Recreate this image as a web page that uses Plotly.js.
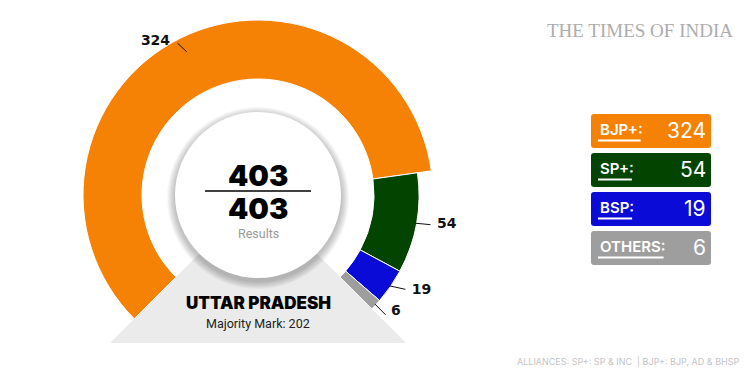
<!DOCTYPE html>
<html><head><meta charset="utf-8">
<script src="https://cdn.plot.ly/plotly-3.0.1.min.js"></script>
<style>html,body{margin:0;padding:0;background:#fff}#chart{width:754px;height:378px}</style>
</head><body><div id="chart"></div>
<script>
// ---- data ----
const parties = ['BJP+', 'SP+', 'BSP', 'OTHERS'];
const seats = [324, 54, 19, 6];
const partyColors = ['#f58205', '#034401', '#0b0bd8', '#9e9e9e'];
const totalSeats = 403;
const majorityMark = 202;
const stateName = 'UTTAR PRADESH';
const footnote = 'ALLIANCES: SP+: SP &amp; INC&nbsp; | BJP+: BJP, AD &amp; BHSP';
const brand = 'THE TIMES OF INDIA';

// ---- geometry / style ----
const W = 754, H = 378, CX = 258, CY = 195;
const R_MAX = 183, R_IN = 116;
const outerR = [175, 161, 161, 161];
const leaderEnd = [172, 175, 175, 175];
const leaderDTheta = [-1.5, -0.4, -2, 0.2];
const labelR = [176.5, 181.3, 180.9, 177.1];
const labelDTheta = [-3.4, -0.9, -2.8, -1.7];
const labelPos = ['middle left', 'middle right', 'middle right', 'middle right'];
const START = -135, SPAN = 270;
const px = x => x / W, py = y => 1 - y / H;

const declared = seats.reduce((a, b) => a + b, 0);
let cum = 0; const theta = [], widths = [];
seats.forEach(v => { const w = v / totalSeats * SPAN; theta.push(START + cum + w / 2); widths.push(w); cum += w; });

const donut = {
  type: 'barpolar', r: outerR.map(o => o - R_IN), base: outerR.map(() => R_IN),
  theta: theta, width: widths,
  marker: {color: partyColors, line: {color: '#ffffff', width: 1}},
  hoverinfo: 'skip', showlegend: false
};
const lr = [], lt = [];
theta.forEach((t, i) => { lr.push(160, leaderEnd[i], null); lt.push(t, t + leaderDTheta[i], null); });
const leaders = {
  type: 'scatterpolar', mode: 'lines', r: lr, theta: lt, cliponaxis: false,
  line: {color: '#111', width: 1}, hoverinfo: 'skip', showlegend: false
};
const labels = {
  type: 'scatterpolar', mode: 'text', r: labelR, theta: theta.map((t, i) => t + labelDTheta[i]), cliponaxis: false,
  text: seats.map(String), textposition: labelPos,
  textfont: {family: 'DejaVu Sans', size: 14, color: '#111', weight: 700},
  hoverinfo: 'skip', showlegend: false
};

const shapes = [];
// grey wedge
const TRI_Y = 343;
shapes.push({type: 'path', xref: 'paper', yref: 'paper', layer: 'above',
  path: `M ${px(CX)} ${py(CY)} L ${px(CX - (TRI_Y - CY))} ${py(TRI_Y)} L ${px(CX + (TRI_Y - CY))} ${py(TRI_Y)} Z`,
  fillcolor: '#ebebeb', line: {width: 0}});
// shadow + center circle
const RC = 83;
for (let i = 8; i >= 1; i--) {
  shapes.push({type: 'circle', xref: 'paper', yref: 'paper', layer: 'above',
    x0: px(CX - RC - i), x1: px(CX + RC + i), y0: py(CY + 3 + RC + i), y1: py(CY + 3 - RC - i),
    fillcolor: 'rgba(0,0,0,0.03)', line: {width: 0}});
}
shapes.push({type: 'circle', xref: 'paper', yref: 'paper', layer: 'above',
  x0: px(CX - RC), x1: px(CX + RC), y0: py(CY + RC), y1: py(CY - RC),
  fillcolor: '#ffffff', line: {width: 0}});
// fraction line
shapes.push({type: 'line', xref: 'paper', yref: 'paper', layer: 'above',
  x0: px(CX - 53), x1: px(CX + 53), y0: py(191), y1: py(191), line: {color: '#000', width: 1.5}});

// legend boxes
const BX0 = 591, BX1 = 711, BY0 = 114, BH = 34, BSTEP = 39, BR = 3;
const canvas = document.createElement('canvas'); const ctx = canvas.getContext('2d');
ctx.font = '600 15px Inter';
const annotations = [];
parties.forEach((p, i) => {
  const y0 = BY0 + i * BSTEP, y1 = y0 + BH;
  const path = `M ${px(BX0 + BR)} ${py(y0)} L ${px(BX1 - BR)} ${py(y0)} Q ${px(BX1)} ${py(y0)} ${px(BX1)} ${py(y0 + BR)} ` +
    `L ${px(BX1)} ${py(y1 - BR)} Q ${px(BX1)} ${py(y1)} ${px(BX1 - BR)} ${py(y1)} L ${px(BX0 + BR)} ${py(y1)} ` +
    `Q ${px(BX0)} ${py(y1)} ${px(BX0)} ${py(y1 - BR)} L ${px(BX0)} ${py(y0 + BR)} Q ${px(BX0)} ${py(y0)} ${px(BX0 + BR)} ${py(y0)} Z`;
  shapes.push({type: 'path', xref: 'paper', yref: 'paper', layer: 'above', path: path,
    fillcolor: partyColors[i], line: {width: 0}});
  const lw = ctx.measureText(p + ':').width;
  shapes.push({type: 'line', xref: 'paper', yref: 'paper', layer: 'above',
    x0: px(598), x1: px(598 + lw), y0: py(y0 + 26.5), y1: py(y0 + 26.5), line: {color: '#fff', width: 2}});
  annotations.push({xref: 'paper', yref: 'paper', x: px(598), y: py(y0 + 15), xanchor: 'left', yanchor: 'middle',
    text: p + ':', showarrow: false, font: {family: 'Inter', size: 15, color: '#fff', weight: 600}});
  annotations.push({xref: 'paper', yref: 'paper', x: px(708), y: py(y0 + 16), xanchor: 'right', yanchor: 'middle',
    text: String(seats[i]), showarrow: false, font: {family: 'Inter', size: 21, color: '#fff', weight: 400}});
});

annotations.push(
  {xref: 'paper', yref: 'paper', x: px(CX), y: py(175), xanchor: 'center', yanchor: 'middle', showarrow: false,
    text: String(declared), font: {family: 'Inter', size: 29, color: '#000', weight: 900}},
  {xref: 'paper', yref: 'paper', x: px(CX), y: py(208), xanchor: 'center', yanchor: 'middle', showarrow: false,
    text: String(totalSeats), font: {family: 'Inter', size: 29, color: '#000', weight: 900}},
  {xref: 'paper', yref: 'paper', x: px(CX), y: py(233), xanchor: 'center', yanchor: 'middle', showarrow: false,
    text: 'Results', font: {family: 'Roboto', size: 12.5, color: '#999'}},
  {xref: 'paper', yref: 'paper', x: px(CX), y: py(303), xanchor: 'center', yanchor: 'middle', showarrow: false,
    text: stateName, font: {family: 'Inter', size: 17, color: '#000', weight: 900}},
  {xref: 'paper', yref: 'paper', x: px(CX), y: py(323), xanchor: 'center', yanchor: 'middle', showarrow: false,
    text: 'Majority Mark: ' + majorityMark, font: {family: 'Roboto', size: 12.5, color: '#222'}},
  {xref: 'paper', yref: 'paper', x: px(545), y: py(31), xanchor: 'left', yanchor: 'middle', showarrow: false,
    text: brand, font: {family: 'Liberation Serif', size: 19, color: '#adadad'}},
  {xref: 'paper', yref: 'paper', x: px(742), y: py(361), xanchor: 'right', yanchor: 'middle', showarrow: false,
    text: footnote, font: {family: 'Inter', size: 9, color: '#c4c4c4'}}
);

const layout = {
  width: W, height: H, margin: {l: 0, r: 0, t: 0, b: 0},
  paper_bgcolor: '#fff', plot_bgcolor: '#fff', showlegend: false,
  polar: {
    domain: {x: [px(CX - R_MAX), px(CX + R_MAX)], y: [Math.max(0, py(CY + R_MAX)), py(CY - R_MAX)]},
    bgcolor: 'rgba(0,0,0,0)', hole: 0, bargap: 0,
    radialaxis: {range: [0, R_MAX], visible: false, showgrid: false},
    angularaxis: {rotation: 90, direction: 'clockwise', visible: false, showgrid: false}
  },
  shapes: shapes, annotations: annotations
};
Plotly.newPlot('chart', [donut, leaders, labels], layout, {displayModeBar: false, staticPlot: true});
</script></body></html>
